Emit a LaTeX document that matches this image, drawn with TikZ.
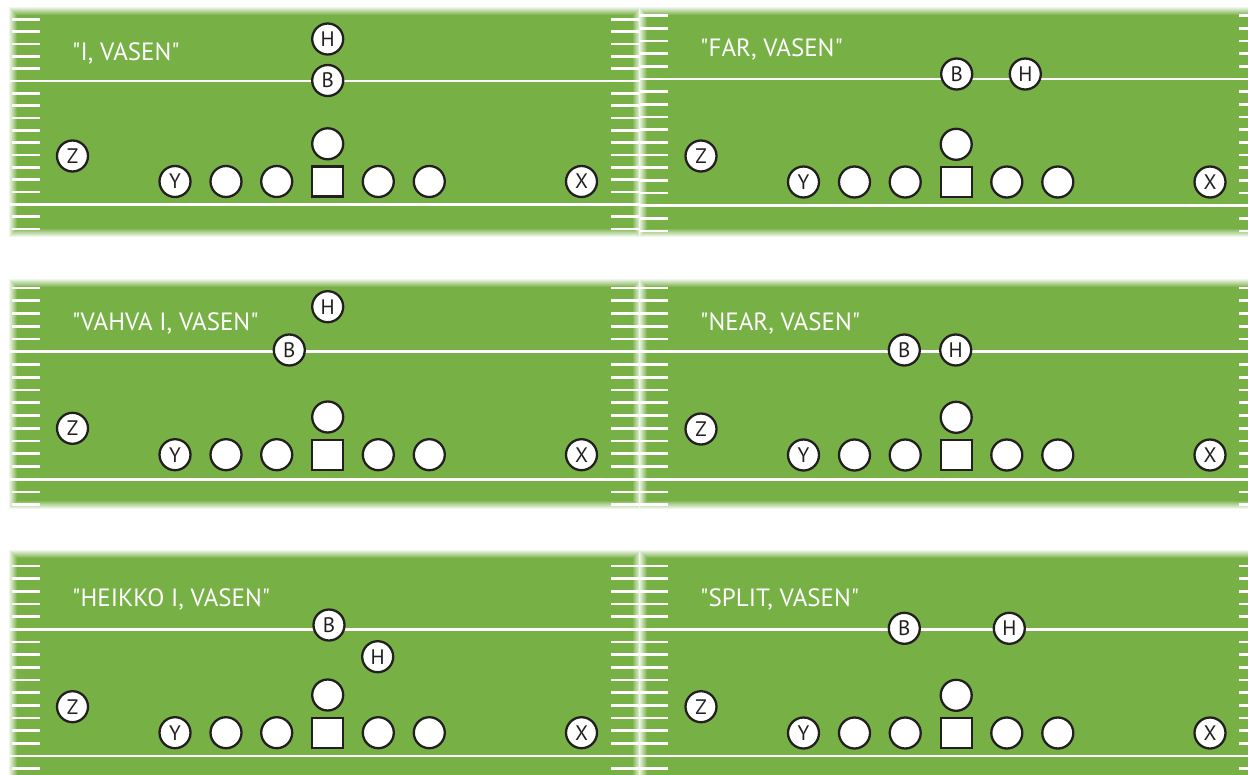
\documentclass[tikz,border=0pt]{standalone}
\usepackage{fontspec}
\setmainfont{PT Sans}
\definecolor{fieldgreen}{RGB}{119,176,69}
\definecolor{ink}{RGB}{35,31,32}
\tikzset{
  player/.style={circle, draw=ink, fill=white, line width=2.3pt, minimum size=31pt,
    inner sep=0pt, text=ink, font=\fontsize{21}{21}\selectfont},
  snapbox/.style={rectangle, draw=ink, fill=white, line width=2.3pt,
    minimum width=31pt, minimum height=30pt, inner sep=0pt},
  title/.style={text=white, anchor=base west, inner sep=0pt, font=\fontsize{25}{25}\selectfont},
  yard/.style={draw=white, line width=2.8pt},
  hashmark/.style={draw=white, line width=2.8pt},
}
\newcommand\q{\textquotedbl}
% field with soft edges: x1,y1,x2,y2 (outer, fully white boundary)
\newcommand\field[4]{%
  \foreach \i in {0,...,8}{%
    \pgfmathtruncatemacro\pc{(\i+1)*100/9}%
    \fill[fieldgreen!\pc!white] (#1+\i,#2+\i) rectangle (#3-\i,#4-\i);
  }}
% hash marks: xstart, xend, line1 y, line2 y, last index
\newcommand\hashes[5]{%
  \foreach \k in {-5,...,#5}{%
    \ifnum\k=0\relax\else\ifnum\k=10\relax\else
      \draw[hashmark] (#1,{#3+(#4-#3)*\k/10}) -- (#2,{#3+(#4-#3)*\k/10});
    \fi\fi
  }}
% offense: prefix, x offset, line y, Z y
\newcommand\offense[4]{%
  \node[player] (#1Z) at (72.5+#2,#4) {Z};
  \node[player] (#1Y) at (175+#2,#3) {Y};
  \node[player] (#1LT) at (226+#2,#3) {};
  \node[player] (#1LG) at (276.7+#2,#3) {};
  \node[snapbox] (#1C) at (327.7+#2,#3) {};
  \node[player] (#1RG) at (378.3+#2,#3) {};
  \node[player] (#1RT) at (429.3+#2,#3) {};
  \node[player] (#1X) at (581.5+#2,#3) {X};
  \node[player] (#1Q) at (327.7+#2,#3-37.7) {};
}
\begin{document}
\begin{tikzpicture}[x=1pt,y=-1pt]
\useasboundingbox (0,0) rectangle (1248,774);
\clip (0,0) rectangle (1248,774);
% ---- fields
\field{9}{7}{641}{237}
\field{639}{7}{1262}{237}
\field{9}{279}{641}{509}
\field{639}{279}{1262}{509}
\field{9}{550}{641}{792}
\field{639}{550}{1262}{792}
% ---- row 1
\hashes{12}{40}{81}{204.3}{12}
\hashes{611}{639}{81}{204.3}{12}
\hashes{640}{668}{79}{205.7}{12}
\hashes{1239}{1250}{79}{205.7}{12}
\draw[yard] (10,81) -- (640,81);
\draw[yard] (10,204.3) -- (640,204.3);
\draw[yard] (640,79) -- (1250,79);
\draw[yard] (640,205.7) -- (1250,205.7);
% ---- row 2
\hashes{12}{40}{351.7}{479.3}{12}
\hashes{611}{639}{351.7}{479.3}{12}
\hashes{640}{668}{351.7}{479.3}{12}
\hashes{1239}{1250}{351.7}{479.3}{12}
\draw[yard] (10,351.7) -- (640,351.7);
\draw[yard] (10,479.3) -- (640,479.3);
\draw[yard] (640,351.7) -- (1250,351.7);
\draw[yard] (640,479.3) -- (1250,479.3);
% ---- row 3
\hashes{12}{40}{629.3}{756}{12}
\hashes{611}{639}{629.3}{756}{12}
\hashes{640}{668}{629.3}{756}{12}
\hashes{1239}{1250}{629.3}{756}{12}
\draw[yard] (10,629.3) -- (640,629.3);
\draw[yard] (10,756) -- (640,756);
\draw[yard] (640,629.3) -- (1250,629.3);
\draw[yard] (640,756) -- (1250,756);
% ---- panel 1: I, VASEN
\node[title] (t1) at (72,60) {\q I, VASEN\q};
\offense{a}{0}{181.5}{156}
\node[player] (aH) at (327.7,39) {H};
\node[player] (aB) at (327.7,80.5) {B};
% ---- panel 2: FAR, VASEN
\node[title] (t2) at (700,56.7) {\q FAR, VASEN\q};
\offense{b}{628.5}{182}{156}
\node[player] (bB) at (956.7,74) {B};
\node[player] (bH) at (1025.3,74) {H};
% ---- panel 3: VAHVA I, VASEN
\node[title] (t3) at (72,330) {\q VAHVA I, VASEN\q};
\offense{c}{0}{454.7}{428.3}
\node[player] (cH) at (327.7,306.7) {H};
\node[player] (cB) at (289.3,350) {B};
% ---- panel 4: NEAR, VASEN
\node[title] (t4) at (700,330) {\q NEAR, VASEN\q};
\offense{d}{628.5}{455}{429}
\node[player] (dB) at (904.3,350) {B};
\node[player] (dH) at (955.7,350) {H};
% ---- panel 5: HEIKKO I, VASEN
\node[title] (t5) at (72,606.7) {\q HEIKKO I, VASEN\q};
\offense{e}{0}{732.7}{706.7}
\node[player] (eB) at (329,625) {B};
\node[player] (eH) at (377.7,656.7) {H};
% ---- panel 6: SPLIT, VASEN
\node[title] (t6) at (700,606.7) {\q SPLIT, VASEN\q};
\offense{f}{628.5}{733}{706.7}
\node[player] (fB) at (904.3,628.3) {B};
\node[player] (fH) at (1009.3,628.3) {H};
\end{tikzpicture}
\end{document}
